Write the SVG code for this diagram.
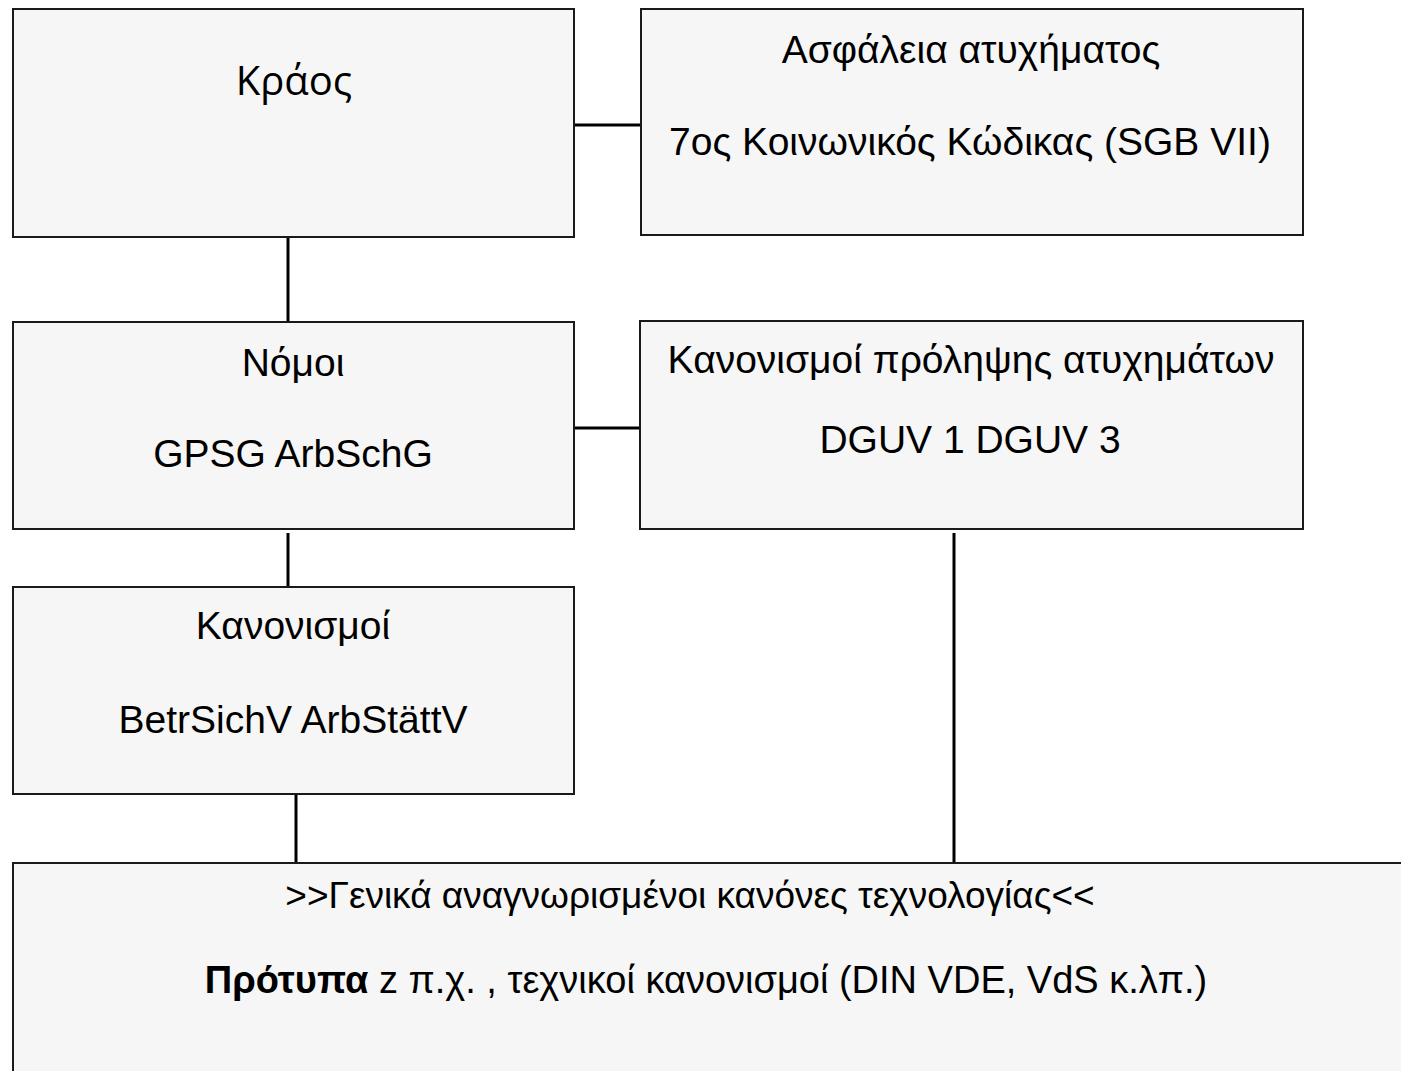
<svg xmlns="http://www.w3.org/2000/svg" width="1401" height="1071" viewBox="0 0 1401 1071">
  <style>
    .box { fill: #f6f6f6; stroke: #1a1a1a; stroke-width: 2; }
    .wire { stroke: #000; stroke-width: 3; fill: none; }
    .lbl { font-family: "Liberation Sans", Arial, sans-serif; font-size: 39px; fill: #000; text-anchor: middle; }
    .lbl.head { font-size: 37px; }
    .lbl.norm { font-size: 38px; }
    .hum { font-family: "Open Sans", "Noto Sans", sans-serif; font-size: 40px; fill: #000; text-anchor: middle; }
  </style>
  <rect width="1401" height="1071" fill="#ffffff"/>

  <!-- connectors -->
  <g id="connectors">
    <line class="wire" x1="574" y1="125" x2="641" y2="125"/>
    <line class="wire" x1="288" y1="237" x2="288" y2="322"/>
    <line class="wire" x1="574" y1="428" x2="640" y2="428"/>
    <line class="wire" x1="288" y1="533" x2="288" y2="587"/>
    <line class="wire" x1="296" y1="794" x2="296" y2="863"/>
    <line class="wire" x1="954" y1="533" x2="954" y2="862"/>
  </g>

  <g id="state">
    <rect class="box" x="13" y="9" width="561" height="228"/>
    <text class="hum" x="294" y="95">Κράος</text>
  </g>

  <g id="accident-insurance">
    <rect class="box" x="641" y="9" width="662" height="226"/>
    <text class="lbl" x="971" y="63">Ασφάλεια ατυχήματος</text>
    <text class="lbl" x="970" y="155">7ος Κοινωνικός Κώδικας (SGB VII)</text>
  </g>

  <g id="laws">
    <rect class="box" x="13" y="322" width="561" height="207"/>
    <text class="lbl" x="293" y="376">Νόμοι</text>
    <text class="lbl" x="293" y="467">GPSG ArbSchG</text>
  </g>

  <g id="accident-prevention">
    <rect class="box" x="640" y="321" width="663" height="208"/>
    <text class="lbl" x="971" y="373">Κανονισμοί πρόληψης ατυχημάτων</text>
    <text class="lbl" x="970" y="453">DGUV 1 DGUV 3</text>
  </g>

  <g id="ordinances">
    <rect class="box" x="13" y="587" width="561" height="207"/>
    <text class="lbl" x="293" y="639">Κανονισμοί</text>
    <text class="lbl" x="293" y="733">BetrSichV ArbStättV</text>
  </g>

  <g id="technology-rules">
    <rect class="box" x="13" y="863" width="1400" height="300"/>
    <text class="lbl head" x="690" y="908">&gt;&gt;Γενικά αναγνωρισμένοι κανόνες τεχνολογίας&lt;&lt;</text>
    <text class="lbl norm" x="706" y="993"><tspan font-weight="bold">Πρότυπα</tspan> z π.χ. , τεχνικοί κανονισμοί (DIN VDE, VdS κ.λπ.)</text>
  </g>
</svg>
